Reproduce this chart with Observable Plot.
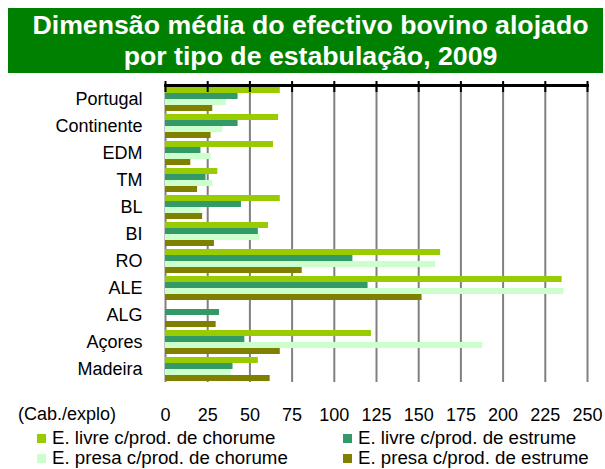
<!DOCTYPE html>
<html>
<head>
<meta charset="utf-8">
<script src="https://cdn.jsdelivr.net/npm/d3@7"></script>
<script src="https://cdn.jsdelivr.net/npm/@observablehq/plot@0.6"></script>
<style>
  body { margin: 0; background: #fff; font-family: "Liberation Sans", Arial, sans-serif; }
  #wrap { position: relative; width: 605px; height: 469px; overflow: hidden; background: #fff; }
  #title { position: absolute; left: 8px; top: 8px; width: 595px; height: 65px; background: #008000; color: #fff;
           font-weight: bold; font-size: 26.7px; line-height: 31px; text-align: center; box-sizing: border-box; padding-top: 2px; padding-left: 10px; white-space: nowrap; }
  #chart { position: absolute; left: 0; top: 73px; }
  #unit { position: absolute; left: 18px; top: 405px; font-size: 18px; line-height: 18px; color: #000; }
  .item { position: absolute; height: 20px; display: flex; align-items: center; font-size: 18.7px; color: #000; white-space: nowrap; }
  .sw { width: 9px; height: 9px; margin-right: 6px; flex: none; }
</style>
</head>
<body>
<div id="wrap">
  <div id="title"></div>
  <div id="chart"></div>
  <div id="unit"></div>
  <div id="legend"></div>
</div>
<script>
const titleLines = ["Dimensão média do efectivo bovino alojado", "por tipo de estabulação, 2009"];
const unitLabel = "(Cab./explo)";
const regions = ["Portugal", "Continente", "EDM", "TM", "BL", "BI", "RO", "ALE", "ALG", "Açores", "Madeira"];
const series = ["E. livre c/prod. de chorume", "E. livre c/prod. de estrume", "E. presa c/prod. de chorume", "E. presa c/prod. de estrume"];
const colors = ["#99CC00", "#339966", "#CCFFCC", "#808000"];
const livreChorume = [68, 67, 64, 31, 68, 61, 163, 235, 0, 122, 55];
const livreEstrume = [43, 43, 21, 24, 45, 55, 111, 120, 32, 47, 40];
const presaChorume = [36, 34, 27, 28, 21, 56, 160, 236, 0, 188, 39];
const presaEstrume = [28, 27, 15, 19, 22, 29, 81, 152, 30, 68, 62];
const xTicks = [0, 25, 50, 75, 100, 125, 150, 175, 200, 225, 250];

const seriesValues = [livreChorume, livreEstrume, presaChorume, presaEstrume];
const data = regions.flatMap((r, i) => series.map((s, j) => ({region: r, series: s, value: seriesValues[j][i]})));

document.getElementById("title").innerHTML = titleLines.join("<br>");
document.getElementById("unit").textContent = unitLabel;

const chart = Plot.plot({
  width: 605,
  height: 355,
  marginTop: 12,
  marginBottom: 46,
  marginLeft: 165,
  marginRight: 18,
  style: {fontSize: "18px", fontFamily: "'Liberation Sans', Arial, sans-serif", color: "#000", background: "transparent", overflow: "visible"},
  x: {domain: [0, 250]},
  y: {domain: series, axis: null, paddingInner: 0.08, paddingOuter: 0.29},
  fy: {domain: regions, padding: 0},
  color: {domain: series, range: colors},
  marks: [
    Plot.gridX(xTicks, {stroke: "#808080", strokeOpacity: 1, strokeWidth: 2}),
    Plot.barX(data, {x: "value", y: "series", fy: "region", fill: "series"}),
    Plot.axisFy({anchor: "left", tickSize: 0, tickPadding: 23, label: null}),
    Plot.frame({anchor: "top", facetAnchor: "top", stroke: "#000", strokeWidth: 3}),
    Plot.axisX(xTicks, {anchor: "top", tickSize: 11, dy: 6, tickFormat: () => "", label: null, stroke: "#000", strokeWidth: 2}),
    Plot.axisX(xTicks, {anchor: "bottom", tickSize: 0, tickPadding: 26, label: null})
  ]
});
document.getElementById("chart").appendChild(chart);

const legend = document.getElementById("legend");
const pos = [[37, 428], [343, 428], [37, 448], [343, 448]];
series.forEach((s, i) => {
  const it = document.createElement("div");
  it.className = "item";
  it.style.left = pos[i][0] + "px";
  it.style.top = pos[i][1] + "px";
  const sw = document.createElement("span");
  sw.className = "sw";
  sw.style.background = colors[i];
  it.appendChild(sw);
  it.appendChild(document.createTextNode(s));
  legend.appendChild(it);
});
</script>
</body>
</html>
